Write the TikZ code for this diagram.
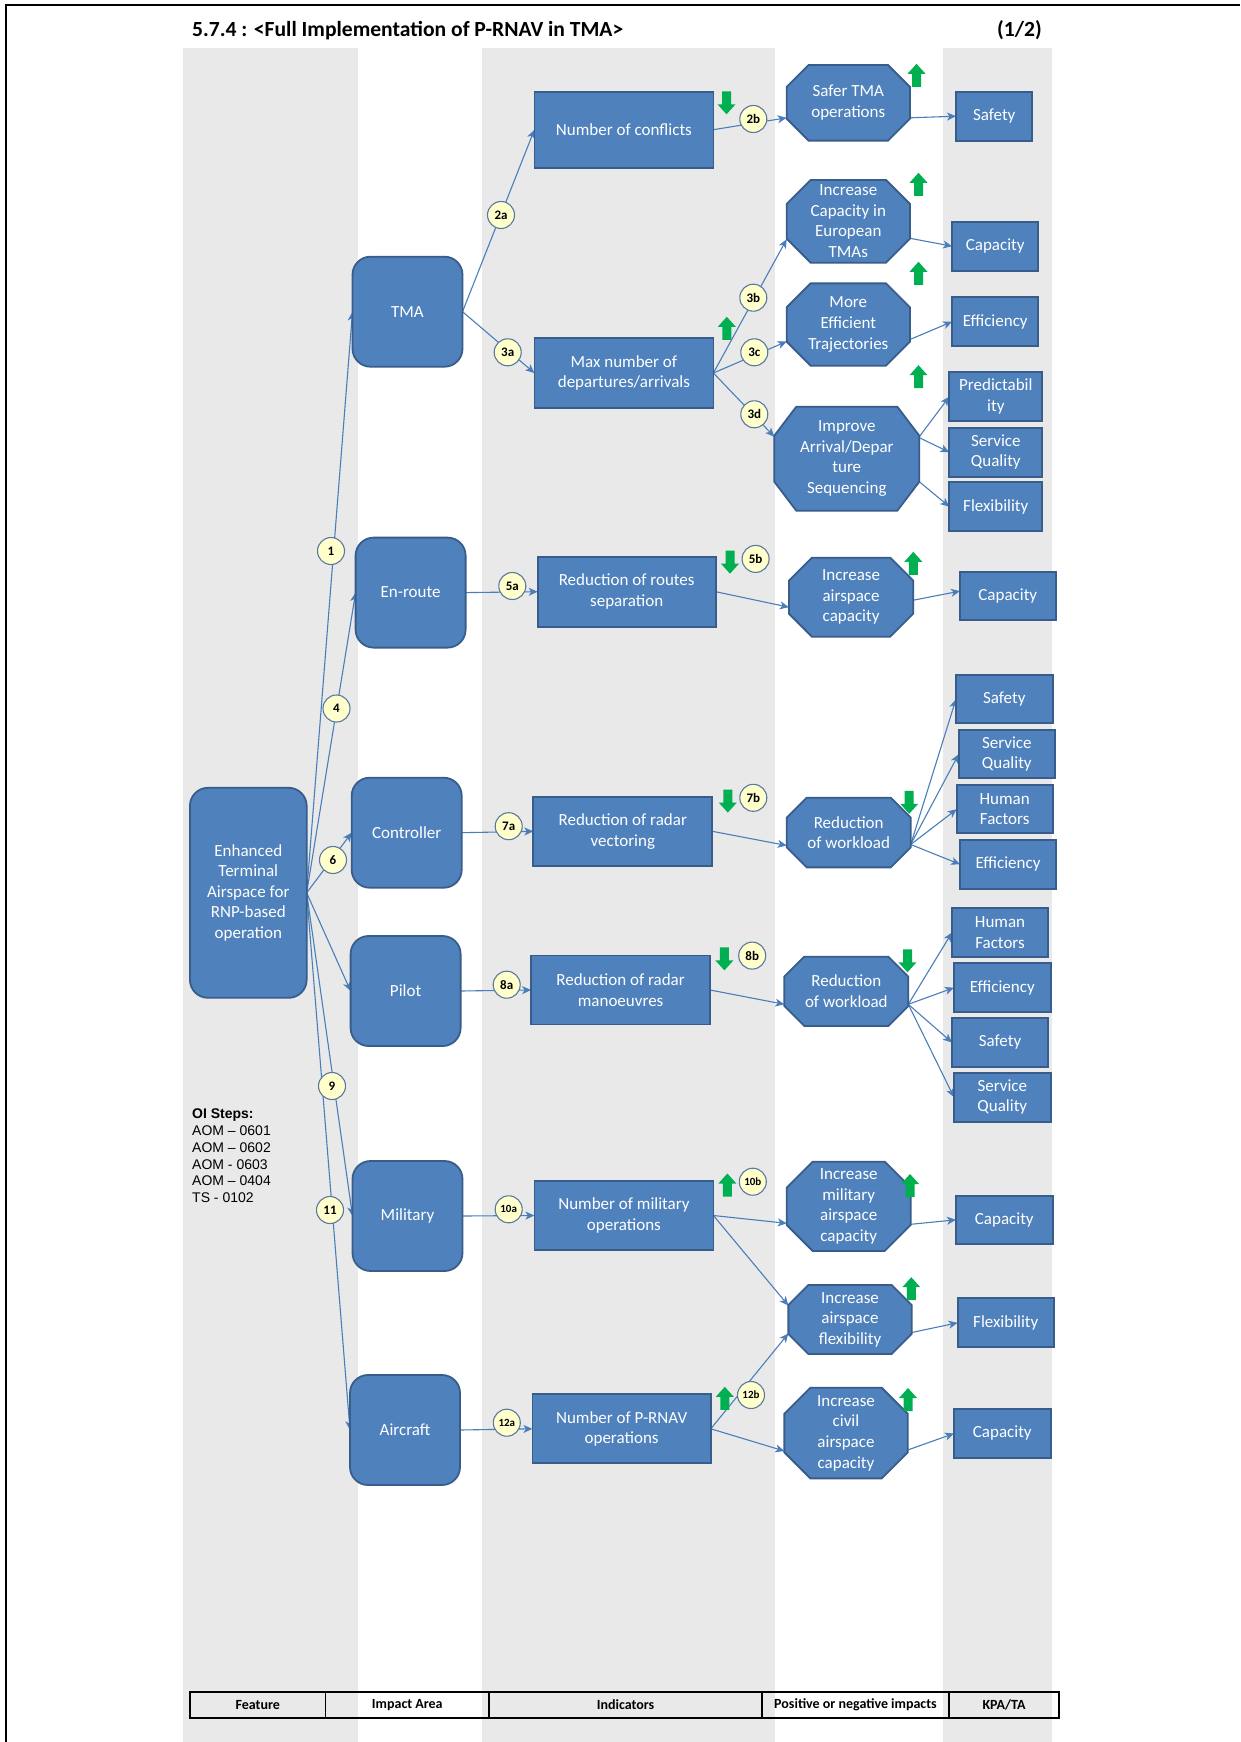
\documentclass[tikz,border=0pt]{standalone}
\usepackage{fontspec}
\setmainfont{Carlito}
\newfontfamily\arialf{Liberation Sans}
\usetikzlibrary{arrows.meta}
\definecolor{boxblue}{RGB}{79,129,189}
\definecolor{boxedge}{RGB}{56,93,138}
\definecolor{connc}{RGB}{74,126,187}
\definecolor{colgray}{RGB}{233,233,233}
\definecolor{lblfill}{RGB}{255,255,204}
\definecolor{lbledge}{RGB}{90,120,160}
\definecolor{upgreen}{RGB}{0,176,80}
\pgfdeclarelayer{bg}\pgfdeclarelayer{lines}\pgfsetlayers{bg,lines,main}
\tikzset{
 base/.style={inner sep=0pt, outer sep=0pt, text=white, align=center, font=\fontsize{17}{20.6}\selectfont},
 featbox/.style={base, draw=boxedge, fill=boxblue, line width=1.8pt, rounded corners=18pt},
 areabox/.style={featbox, minimum width=110pt, minimum height=110pt},
 indbox/.style={base, draw=boxedge, fill=boxblue, line width=1.8pt},
 kpabox/.style={indbox},
 octtxt/.style={base},
 octfill/.style={draw=boxedge, fill=boxblue, line width=1.8pt},
 lbl/.style={circle, draw=lbledge, fill=lblfill, line width=1.1pt, minimum size=27pt, inner sep=0pt, text=black, font=\bfseries\fontsize{13}{14}\selectfont},
 lbls/.style={lbl, font=\bfseries\fontsize{11}{12}\selectfont},
 conn/.style={draw=connc, line width=1.1pt, -{Stealth[length=9pt,width=8pt,inset=2.5pt]}},
 garrow/.style={fill=upgreen},
 tbltxt/.style={font=\bfseries\fontsize{14}{16}\selectfont, inner sep=0pt}
}
\newcommand{\octnode}[8]{%
  \filldraw[octfill] ({#2-#4/2+#6},{#3-#5/2}) -- ({#2+#4/2-#6},{#3-#5/2}) -- ({#2+#4/2},{#3-#5/2+#7}) -- ({#2+#4/2},{#3+#5/2-#7}) -- ({#2+#4/2-#6},{#3+#5/2}) -- ({#2-#4/2+#6},{#3+#5/2}) -- ({#2-#4/2},{#3+#5/2-#7}) -- ({#2-#4/2},{#3-#5/2+#7}) -- cycle;
  \node[octtxt, minimum width=#4pt, minimum height=#5pt] (#1) at (#2,#3) {#8};}
\newcommand{\gup}[2]{\fill[garrow] ({#1},{#2-11.5}) -- ({#1+9},{#2-1.5}) -- ({#1+4.5},{#2-1.5}) -- ({#1+4.5},{#2+11.5}) -- ({#1-4.5},{#2+11.5}) -- ({#1-4.5},{#2-1.5}) -- ({#1-9},{#2-1.5}) -- cycle;}
\newcommand{\gdown}[2]{\fill[garrow] ({#1},{#2+11.5}) -- ({#1+9},{#2+1.5}) -- ({#1+4.5},{#2+1.5}) -- ({#1+4.5},{#2-11.5}) -- ({#1-4.5},{#2-11.5}) -- ({#1-4.5},{#2+1.5}) -- ({#1-9},{#2+1.5}) -- cycle;}
\begin{document}
\begin{tikzpicture}[x=1pt,y=-1pt]
\useasboundingbox (0,0) rectangle (1240,1742);
\begin{pgfonlayer}{bg}
\fill[white] (0,0) rectangle (1240,1742);
\fill[colgray] (183,48) rectangle (358,1742);
\fill[colgray] (482,48) rectangle (775,1742);
\fill[colgray] (943,48) rectangle (1052,1742);
\draw[black, line width=2.5pt] (6,1742) -- (6,5) -- (1240,5);
\end{pgfonlayer}
% title
\node[anchor=base west, inner sep=0pt, font=\bfseries\fontsize{21.6}{26}\selectfont] (title) at (192,37) {5.7.4 : <Full Implementation of P-RNAV in TMA>};
\node[anchor=base east, inner sep=0pt, font=\bfseries\fontsize{21.6}{26}\selectfont] (page) at (1042,37) {(1/2)};
% feature
\node[featbox, minimum width=116.7pt, minimum height=210pt] (F) at (248.3,892.8) {Enhanced\\Terminal\\Airspace for\\RNP-based\\operation};
% impact areas
\node[areabox] (TMA) at (407.5,311.7) {TMA};
\node[areabox] (ENR) at (410.6,592.6) {En-route};
\node[areabox] (CTL) at (406.7,832.7) {Controller};
\node[areabox] (PIL) at (405.6,991) {Pilot};
\node[areabox] (MIL) at (407.5,1216) {Military};
\node[areabox] (AIR) at (405,1430) {Aircraft};
% indicators
\node[indbox, minimum width=179pt, minimum height=76pt] (I1) at (623.9,129.7) {Number of conflicts};
\node[indbox, minimum width=179pt, minimum height=70pt] (I2) at (623.9,373) {Max number of\\departures/arrivals};
\node[indbox, minimum width=178pt, minimum height=70pt] (I3) at (626.7,591.7) {Reduction of routes\\separation};
\node[indbox, minimum width=179pt, minimum height=69pt] (I4) at (622.8,831.3) {Reduction of radar\\vectoring};
\node[indbox, minimum width=179pt, minimum height=69pt] (I5) at (620.6,990) {Reduction of radar\\manoeuvres};
\node[indbox, minimum width=179pt, minimum height=69pt] (I6) at (623.9,1215.5) {Number of military\\operations};
\node[indbox, minimum width=178.4pt, minimum height=69pt] (I7) at (621.6,1428.8) {Number of P-RNAV\\operations};
% impacts
\octnode{S1}{848.3}{102.8}{123.3}{75.7}{22}{22}{Safer TMA\\operations}
\octnode{S2}{848.3}{221.3}{123.3}{82.7}{24}{24}{Increase\\Capacity in\\European\\TMAs}
\octnode{S3}{848.3}{324.5}{123.3}{82.3}{24}{24}{More\\Efficient\\Trajectories}
\octnode{S4}{846.8}{458.7}{145}{104}{22}{29}{Improve\\Arrival/Depar\\ture\\Sequencing}
\octnode{S5}{851.1}{597.2}{124.4}{78.9}{23}{23}{Increase\\airspace\\capacity}
\octnode{S6}{848.7}{832.5}{124}{69.7}{20}{20}{Reduction\\of workload}
\octnode{S7}{846.3}{991.3}{124}{69.3}{20}{20}{Reduction\\of workload}
\octnode{S8}{848.7}{1206.3}{124}{89.3}{26}{26}{Increase\\military\\airspace\\capacity}
\octnode{S9}{850}{1319.5}{123.3}{69}{20}{20}{Increase\\airspace\\flexibility}
\octnode{S10}{846}{1433}{123.3}{90.7}{26}{26}{Increase\\civil\\airspace\\capacity}
% KPA
\node[kpabox, minimum width=76.3pt, minimum height=49pt] (K1) at (994.2,116.2) {Safety};
\node[kpabox, minimum width=86.3pt, minimum height=49pt] (K2) at (995.2,246.2) {Capacity};
\node[kpabox, minimum width=86.3pt, minimum height=48.7pt] (K3) at (995.2,321.7) {Efficiency};
\node[kpabox, minimum width=93pt, minimum height=48.7pt] (K4) at (995.8,396.7) {Predictabil\\ity};
\node[kpabox, minimum width=93pt, minimum height=49pt] (K5) at (995.8,452.2) {Service\\Quality};
\node[kpabox, minimum width=93pt, minimum height=48.7pt] (K6) at (995.8,506.7) {Flexibility};
\node[kpabox, minimum width=95.6pt, minimum height=47.8pt] (K7) at (1007.8,596.1) {Capacity};
\node[kpabox, minimum width=96.7pt, minimum height=48.3pt] (K8) at (1004.3,699.2) {Safety};
\node[kpabox, minimum width=96.3pt, minimum height=48.3pt] (K9) at (1006.8,754.2) {Service\\Quality};
\node[kpabox, minimum width=96pt, minimum height=48.3pt] (K10) at (1004.7,809.2) {Human\\Factors};
\node[kpabox, minimum width=96pt, minimum height=48.7pt] (K11) at (1008,864.3) {Efficiency};
\node[kpabox, minimum width=96pt, minimum height=48.3pt] (K12) at (1000,932.5) {Human\\Factors};
\node[kpabox, minimum width=96.7pt, minimum height=48.7pt] (K13) at (1002.3,987.7) {Efficiency};
\node[kpabox, minimum width=96pt, minimum height=48.3pt] (K14) at (1000,1042.5) {Safety};
\node[kpabox, minimum width=96.7pt, minimum height=49pt] (K15) at (1002.3,1097.2) {Service\\Quality};
\node[kpabox, minimum width=96.7pt, minimum height=48.3pt] (K16) at (1004.3,1219.8) {Capacity};
\node[kpabox, minimum width=96.3pt, minimum height=49pt] (K17) at (1005.8,1322.8) {Flexibility};
\node[kpabox, minimum width=96.7pt, minimum height=48.3pt] (K18) at (1002.3,1433.5) {Capacity};
% connectors
\begin{pgfonlayer}{lines}
\draw[conn] (F.east) -- (TMA.west);
\draw[conn] (F.east) -- (ENR.west);
\draw[conn] (F.east) -- (CTL.west);
\draw[conn] (F.east) -- (PIL.west);
\draw[conn] (F.east) -- (MIL.west);
\draw[conn] (F.east) -- (AIR.west);
\draw[conn] (TMA.east) -- (I1.west);
\draw[conn] (TMA.east) -- (I2.west);
\draw[conn] (ENR.east) -- (I3.west);
\draw[conn] (CTL.east) -- (I4.west);
\draw[conn] (PIL.east) -- (I5.west);
\draw[conn] (MIL.east) -- (I6.west);
\draw[conn] (AIR.east) -- (I7.west);
\draw[conn] (I1.east) -- ([yshift=-15pt]S1.west);
\draw[conn] ([yshift=-15pt]S1.east) -- (K1.west);
\draw[conn] (I2.east) -- ([yshift=-18pt]S2.west);
\draw[conn] (I2.east) -- ([yshift=-17pt]S3.west);
\draw[conn] (I2.east) -- ([yshift=22pt]S4.west);
\draw[conn] ([yshift=-17pt]S2.east) -- (K2.west);
\draw[conn] ([yshift=-15pt]S3.east) -- (K3.west);
\draw[conn] ([yshift=22pt]S4.east) -- (K4.west);
\draw[conn] ([yshift=21pt]S4.east) -- (K5.west);
\draw[conn] ([yshift=-23pt]S4.east) -- (K6.west);
\draw[conn] (I3.east) -- ([yshift=-10pt]S5.west);
\draw[conn] ([yshift=-3pt]S5.east) -- ([yshift=5pt]K7.west);
\draw[conn] (I4.east) -- ([yshift=-13pt]S6.west);
\draw[conn] ([yshift=-12pt]S6.east) -- (K8.west);
\draw[conn] ([yshift=-12pt]S6.east) -- (K9.west);
\draw[conn] ([yshift=-12pt]S6.east) -- (K10.west);
\draw[conn] ([yshift=-12pt]S6.east) -- (K11.west);
\draw[conn] (I5.east) -- ([yshift=-13pt]S7.west);
\draw[conn] ([yshift=-13pt]S7.east) -- (K12.west);
\draw[conn] ([yshift=-13pt]S7.east) -- (K13.west);
\draw[conn] ([yshift=-13pt]S7.east) -- (K14.west);
\draw[conn] ([yshift=-13pt]S7.east) -- (K15.west);
\draw[conn] (I6.east) -- ([yshift=-17pt]S8.west);
\draw[conn] (I6.east) -- ([yshift=14pt]S9.west);
\draw[conn] (I7.east) -- ([yshift=-14pt]S9.west);
\draw[conn] (I7.east) -- ([yshift=-18pt]S10.west);
\draw[conn] ([yshift=-18pt]S8.east) -- (K16.west);
\draw[conn] ([yshift=-13pt]S9.east) -- (K17.west);
\draw[conn] ([yshift=-17pt]S10.east) -- (K18.west);
\end{pgfonlayer}
% number labels
\node[lbl] (c1) at (331,551) {1};
\node[lbl] (c2a) at (501,215) {2a};
\node[lbl] (c2b) at (753.3,119) {2b};
\node[lbl] (c3a) at (507.7,352.3) {3a};
\node[lbl] (c3b) at (753.3,297.7) {3b};
\node[lbl] (c3c) at (754.3,352.3) {3c};
\node[lbl] (c3d) at (754.3,414.3) {3d};
\node[lbl] (c4) at (336.5,708.5) {4};
\node[lbl] (c5a) at (512.3,586) {5a};
\node[lbl] (c5b) at (755.6,558.9) {5b};
\node[lbl] (c6) at (333,860) {6};
\node[lbl] (c7a) at (508.7,826.2) {7a};
\node[lbl] (c7b) at (753.3,797.8) {7b};
\node[lbl] (c8a) at (506.7,984.7) {8a};
\node[lbl] (c8b) at (752.2,955.6) {8b};
\node[lbl] (c9) at (332,1086) {9};
\node[lbls] (c10a) at (508.7,1209.3) {10a};
\node[lbls] (c10b) at (752.8,1181.7) {10b};
\node[lbl] (c11) at (330,1210) {11};
\node[lbls] (c12a) at (506.8,1422.7) {12a};
\node[lbls] (c12b) at (751,1395) {12b};
% green arrows
\gdown{726.5}{102.8}
\gup{916.5}{75.3}
\gup{918.5}{184.3}
\gup{918.5}{273.3}
\gup{918.5}{376.7}
\gup{726.8}{328.3}
\gdown{730}{562.2}
\gup{913.3}{563.3}
\gdown{727.8}{801.1}
\gdown{909.2}{802.3}
\gdown{724.4}{958.9}
\gdown{907.5}{960.8}
\gup{727.4}{1185}
\gup{910}{1185.5}
\gup{911.3}{1288.7}
\gup{724.8}{1398.3}
\gup{908}{1399.5}
% OI steps
\node[anchor=north west, inner sep=0pt, align=left, font=\arialf\fontsize{14}{16.7}\selectfont] (oi) at (192,1109) {\textbf{OI Steps:}\\AOM – 0601\\AOM – 0602\\AOM - 0603\\AOM – 0404\\TS - 0102};
% bottom table
\draw[black, line width=1.2pt] (190,1692) rectangle (1059,1718);
\draw[black, line width=1.2pt] (325.5,1692) -- (325.5,1718) (489,1692) -- (489,1718) (762,1692) -- (762,1718) (949,1692) -- (949,1718);
\node[tbltxt] (t1) at (257.8,1705) {Feature};
\node[tbltxt] (t2) at (407.3,1705) {Impact Area};
\node[tbltxt] (t3) at (625.5,1705) {Indicators};
\node[tbltxt] (t4) at (855.5,1705) {Positive or negative impacts};
\node[tbltxt] (t5) at (1004,1705) {KPA/TA};
\end{tikzpicture}
\end{document}
